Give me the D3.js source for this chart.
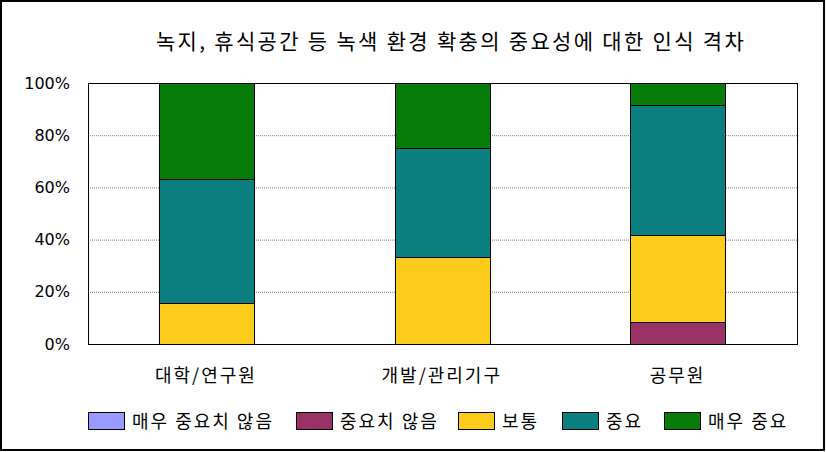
<!DOCTYPE html>
<html><head><meta charset="utf-8">
<script src="https://cdn.jsdelivr.net/npm/d3@7"></script>
<style>
body{margin:0;background:#fff;}
text{font-family:"DejaVu Sans","Noto Sans CJK KR",sans-serif;fill:#000;}
</style></head>
<body><svg id="c" width="826" height="452"></svg>
<script>
const title = "녹지, 휴식공간 등 녹색 환경 확충의 중요성에 대한 인식 격차";
const categories = ["대학/연구원", "개발/관리기구", "공무원"];
const seriesNames = ["매우 중요치 않음", "중요치 않음", "보통", "중요", "매우 중요"];
const colors = ["#9999FF", "#993366", "#FCCC1C", "#0C8080", "#087C08"];
const s_veryUnimportant = [0, 0, 0];
const s_unimportant = [0, 0, 8.3];
const s_normal = [15.8, 33.3, 33.3];
const s_important = [47.4, 41.7, 50.0];
const s_veryImportant = [36.8, 25.0, 8.4];
const yTicks = [0, 20, 40, 60, 80, 100];

const seriesValues = [s_veryUnimportant, s_unimportant, s_normal, s_important, s_veryImportant];
const rows = categories.map((c, i) => {
  const r = {cat: c};
  seriesNames.forEach((s, j) => r[s] = seriesValues[j][i]);
  return r;
});
const stacked = d3.stack().keys(seriesNames)(rows);

const svg = d3.select("#c");
svg.append("rect").attr("x", 1).attr("y", 1).attr("width", 823).attr("height", 449)
  .attr("fill", "#fff").attr("stroke", "#000").attr("stroke-width", 2);

const m = {l: 88, r: 797, t: 83, b: 344};
const x = d3.scaleBand().domain(categories).range([m.l, 795.5]).paddingInner(0.6).paddingOuter(0.3);
const y = d3.scaleLinear().domain([0, 100]).range([m.b, m.t]);

// gridlines
svg.append("g").selectAll("line").data(yTicks.filter(t => t > 0 && t < 100)).join("line")
  .attr("x1", m.l).attr("x2", m.r).attr("y1", d => y(d) + 0.5).attr("y2", d => y(d) + 0.5)
  .attr("stroke", "#808080").attr("stroke-width", 1).attr("stroke-dasharray", "1,1");

// plot border
svg.append("rect").attr("x", m.l + 0.5).attr("y", m.t + 0.5).attr("width", m.r - m.l).attr("height", m.b - m.t)
  .attr("fill", "none").attr("stroke", "#000").attr("stroke-width", 1);

// bars
svg.append("g").selectAll("g").data(stacked).join("g")
  .attr("fill", (d, i) => colors[i])
  .selectAll("rect").data(d => d.filter(p => p[1] - p[0] > 0)).join("rect")
  .attr("x", d => Math.round(x(d.data.cat)) + 0.5)
  .attr("width", Math.round(x.bandwidth()) + 1)
  .attr("y", d => Math.round(y(d[1])) + 0.5)
  .attr("height", d => Math.round(y(d[0])) - Math.round(y(d[1])))
  .attr("stroke", "#000").attr("stroke-width", 1);

// y axis
const yAxis = d3.axisLeft(y).tickValues(yTicks).tickFormat(d => d + "%").tickSize(0).tickPadding(18);
const ya = svg.append("g").attr("transform", `translate(${m.l},0)`).call(yAxis);
ya.select(".domain").remove();
ya.selectAll("text").attr("font-size", 16).style("font-family", "'DejaVu Sans',sans-serif");

// x axis
const xAxis = d3.axisBottom(x).tickSize(0).tickPadding(25);
const xa = svg.append("g").attr("transform", `translate(0,${m.b})`).call(xAxis);
xa.select(".domain").remove();
xa.selectAll("text").attr("font-size", 18).attr("letter-spacing", 2)
  .style("font-family", "'Noto Sans CJK KR',sans-serif");

// title
svg.append("text").attr("x", 451).attr("y", 49).attr("text-anchor", "middle")
  .attr("font-size", 21).attr("letter-spacing", 2.3)
  .style("font-family", "'Noto Sans CJK KR',sans-serif").text(title);

// legend
const legX = [88, 296, 458, 562, 664];
const lg = svg.append("g").selectAll("g").data(seriesNames).join("g")
  .attr("transform", (d, i) => `translate(${legX[i]},412)`);
lg.append("rect").attr("x", 0.5).attr("y", 0.5).attr("width", 36).attr("height", 17)
  .attr("fill", (d, i) => colors[i]).attr("stroke", "#000").attr("stroke-width", 1);
lg.append("text").attr("x", 44).attr("y", 16).attr("font-size", 18).attr("letter-spacing", 2)
  .style("font-family", "'Noto Sans CJK KR',sans-serif").text(d => d);
</script></body></html>
